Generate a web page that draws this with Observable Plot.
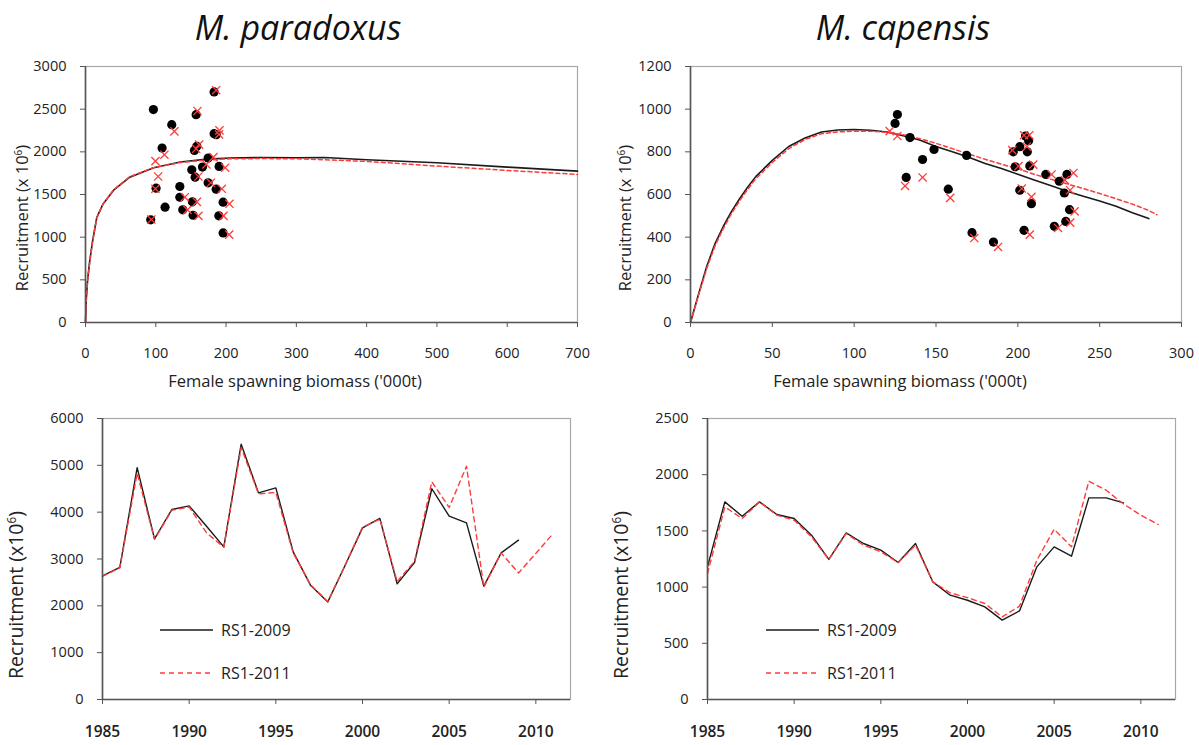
<!DOCTYPE html>
<html><head><meta charset="utf-8">
<script src="https://cdn.jsdelivr.net/npm/d3@7"></script>
<script src="https://cdn.jsdelivr.net/npm/@observablehq/plot@0.6"></script>
<style>
html,body{margin:0;padding:0;background:#fff;}
#root{position:relative;width:1199px;height:745px;overflow:hidden;font-family:"Open Sans",sans-serif;color:#222;}
.t{position:absolute;white-space:nowrap;line-height:1;transform:translate(-50%,-50%);}
.rot{transform:translate(-50%,-50%) rotate(-90deg);}
.title{font-style:italic;font-size:34px;color:#111;}
.xt{font-size:16.5px;}
.yt{font-size:16.5px;}
.yb{font-size:19.5px;}
.leg{position:absolute;font-size:16px;line-height:1;white-space:nowrap;display:flex;align-items:center;}
.leg svg{display:block;}
sup{font-size:0.6em;vertical-align:0.6em;line-height:0;}
</style></head><body><div id="root"></div>
<script>
// ---------- M. paradoxus : stock-recruitment ----------
const paraSRxTicks = [0, 100, 200, 300, 400, 500, 600, 700];
const paraSRyTicks = [0, 500, 1000, 1500, 2000, 2500, 3000];
const paraObs2009SSB = [183, 96.6, 157.4, 122.7, 183, 186, 109, 158.4, 155, 174.5, 151.2, 166.4, 190.1, 156, 100.4, 134.2, 174.5, 185.9, 134.2, 195.8, 152.1, 113.2, 138.4, 153.1, 189.7, 92.8, 195.8];
const paraObs2009Rec = [2702, 2495, 2436, 2318, 2213, 2200, 2044, 2064, 2017, 1927, 1790, 1821, 1829, 1703, 1574, 1594, 1637, 1562, 1468, 1410, 1414, 1351, 1320, 1257, 1250, 1203, 1050];
const paraObs2011SSB = [185.9, 159.3, 126.5, 190.6, 190, 112.3, 99.5, 161.7, 157.4, 182, 172, 198.7, 103.3, 160.7, 99.5, 178.3, 194, 141.3, 158.4, 204.8, 145, 160.7, 196.3, 93.7, 204.4];
const paraObs2011Rec = [2722, 2479, 2240, 2252, 2205, 1966, 1891, 2084, 2036, 1938, 1852, 1814, 1711, 1711, 1567, 1637, 1567, 1468, 1414, 1391, 1320, 1250, 1250, 1207, 1030];
const paraCurve2009SSB = [0, 1, 3, 6, 10, 16, 25, 40, 63, 97, 135, 173, 206, 250, 300, 340, 400, 500, 600, 700];
const paraCurve2009Rec = [0, 260, 500, 720, 950, 1230, 1390, 1550, 1703, 1813, 1880, 1915, 1927, 1933, 1931, 1933, 1908, 1872, 1821, 1774];
const paraCurve2011SSB = [0, 1, 3, 6, 10, 16, 25, 40, 63, 97, 135, 173, 206, 250, 300, 400, 500, 600, 700];
const paraCurve2011Rec = [0, 250, 490, 710, 940, 1225, 1390, 1555, 1710, 1815, 1875, 1905, 1918, 1921, 1919, 1888, 1833, 1782, 1735];

// ---------- M. capensis : stock-recruitment ----------
const capSRxTicks = [0, 50, 100, 150, 200, 250, 300];
const capSRyTicks = [0, 200, 400, 600, 800, 1000, 1200];
const capObs2009SSB = [126.4, 125, 134.1, 141.8, 131.8, 148.8, 157.5, 168.7, 172, 185.1, 197.2, 201.2, 198.4, 204.7, 206.6, 205.8, 207.3, 201.2, 208.3, 203.8, 217.1, 225.3, 230, 228.4, 231.6, 229.3, 222.3];
const capObs2009Rec = [975, 933, 867, 764, 680, 811, 625, 783, 421, 377, 800, 824, 730, 874, 852, 800, 734, 620, 557, 432, 694, 662, 694, 607, 529, 474, 451];
const capObs2011SSB = [121.7, 126.4, 131.1, 141.8, 158.7, 173.4, 187.9, 196.6, 200.4, 203.8, 207, 205.5, 209.4, 202.4, 208.3, 207.3, 220.6, 224.6, 228.8, 234, 231.9, 234.7, 232];
const capObs2011Rec = [897, 874, 640, 680, 584, 396, 354, 808, 733, 878, 878, 824, 740, 628, 589, 412, 694, 443, 667, 701, 620, 521, 468];
const capCurve2009SSB = [0, 5, 10, 15, 20, 25, 30, 35, 40, 50, 60, 70, 80, 90, 100, 110, 120, 130, 140, 150, 160, 170, 180, 190, 200, 210, 220, 230, 240, 250, 260, 270, 280];
const capCurve2009Rec = [0, 135, 265, 370, 450, 520, 580, 635, 685, 760, 825, 865, 893, 902, 905, 901, 893, 875, 855, 825, 800, 775, 745, 722, 695, 668, 642, 615, 592, 570, 545, 515, 487];
const capCurve2011SSB = [0, 5, 10, 15, 20, 25, 30, 35, 40, 50, 60, 70, 80, 90, 100, 110, 120, 130, 140, 150, 160, 170, 180, 190, 200, 210, 220, 230, 240, 250, 260, 270, 280, 285];
const capCurve2011Rec = [0, 130, 255, 360, 440, 510, 570, 625, 675, 750, 815, 858, 885, 893, 897, 897, 892, 880, 862, 840, 815, 790, 765, 742, 720, 695, 672, 650, 628, 605, 580, 555, 525, 505];

// ---------- Recruitment time series ----------
const yearTicks = [1985, 1990, 1995, 2000, 2005, 2010];
const yearDomain = [1985, 2012];
const years2009 = [1985, 1986, 1987, 1988, 1989, 1990, 1991, 1992, 1993, 1994, 1995, 1996, 1997, 1998, 1999, 2000, 2001, 2002, 2003, 2004, 2005, 2006, 2007, 2008, 2009];
const years2011 = [1985, 1986, 1987, 1988, 1989, 1990, 1991, 1992, 1993, 1994, 1995, 1996, 1997, 1998, 1999, 2000, 2001, 2002, 2003, 2004, 2005, 2006, 2007, 2008, 2009, 2010, 2011];
const paraTSyTicks = [0, 1000, 2000, 3000, 4000, 5000, 6000];
const paraRec2009 = [2640, 2820, 4950, 3430, 4057, 4134, 3700, 3259, 5452, 4412, 4519, 3152, 2441, 2084, 2868, 3665, 3865, 2470, 2925, 4500, 3914, 3771, 2420, 3130, 3402];
const paraRec2011 = [2630, 2810, 4830, 3420, 4040, 4110, 3560, 3250, 5380, 4390, 4420, 3130, 2450, 2090, 2870, 3680, 3850, 2520, 2950, 4650, 4100, 4980, 2400, 3130, 2700, 3120, 3545];
const capTSyTicks = [0, 500, 1000, 1500, 2000, 2500];
const capRec2009 = [1180, 1758, 1631, 1758, 1646, 1610, 1462, 1246, 1482, 1388, 1329, 1219, 1388, 1046, 928, 883, 824, 706, 788, 1180, 1358, 1275, 1794, 1794, 1749];
const capRec2011 = [1120, 1713, 1610, 1758, 1640, 1595, 1447, 1246, 1477, 1373, 1314, 1219, 1373, 1046, 949, 906, 854, 735, 830, 1239, 1515, 1358, 1942, 1862, 1740, 1640, 1557];

const seriesNames = ["RS1-2009", "RS1-2011"];
const titles = ["M. paradoxus", "M. capensis"];
const xTitle = "Female spawning biomass ('000t)";

// ---------- helpers ----------
const zip = (xs, ys) => xs.map((x, i) => ({x, y: ys[i]}));
const BLACK = "#1a1a1a", RED = "#ff3b3b", AXIS = "#555", FRAME = "#a8a8a8";
const root = document.getElementById("root");

function panel(o) {
  const svg = Plot.plot({
    width: o.width, height: o.height,
    marginLeft: o.ml, marginRight: o.mr, marginTop: o.mt, marginBottom: o.mb,
    x: {domain: o.xDomain},
    y: {domain: [o.yTicks[0], o.yTicks[o.yTicks.length - 1]]},
    style: {fontFamily: "'Open Sans', sans-serif", fontSize: "14.5px", color: "#222", background: "transparent", overflow: "visible"},
    marks: [
      Plot.frame({stroke: FRAME, strokeWidth: 1.2}),
      Plot.axisX({ticks: o.xTicks, tickFormat: d3.format("d"), tickSize: 5, tickPadding: o.xPad, stroke: AXIS, fill: "#222", label: null, fontSize: o.xFont, fontWeight: o.xWeight}),
      Plot.axisY({ticks: o.yTicks, tickFormat: d3.format("d"), tickSize: 5, tickPadding: 14, stroke: AXIS, fill: "#222", label: null}),
      ...o.marks,
      Plot.ruleX([o.xTicks[0]], {stroke: AXIS, strokeWidth: 1.6}),
      Plot.ruleY([o.yTicks[0]], {stroke: AXIS, strokeWidth: 1.6})
    ]
  });
  svg.style.position = "absolute";
  svg.style.left = o.left + "px";
  svg.style.top = o.top + "px";
  root.appendChild(svg);
}

function srMarks(c09x, c09y, c11x, c11y, o09x, o09y, o11x, o11y) {
  return [
    Plot.line(zip(c09x, c09y), {x: "x", y: "y", stroke: BLACK, strokeWidth: 1.6}),
    Plot.line(zip(c11x, c11y), {x: "x", y: "y", stroke: RED, strokeWidth: 1.5, strokeDasharray: "4,3"}),
    Plot.dot(zip(o09x, o09y), {x: "x", y: "y", r: 4.6, fill: "#000", stroke: "none"}),
    Plot.dot(zip(o11x, o11y), {x: "x", y: "y", r: 3.8, symbol: "times", stroke: RED, strokeWidth: 1.3})
  ];
}
function tsMarks(y09, r09, y11, r11) {
  return [
    Plot.line(zip(y09, r09), {x: "x", y: "y", stroke: BLACK, strokeWidth: 1.4}),
    Plot.line(zip(y11, r11), {x: "x", y: "y", stroke: RED, strokeWidth: 1.4, strokeDasharray: "5,4"})
  ];
}

// top-left
panel({left: 0, top: 40, width: 600, height: 360, ml: 85, mr: 23, mt: 26, mb: 78,
  xDomain: [paraSRxTicks[0], paraSRxTicks[paraSRxTicks.length - 1]], xTicks: paraSRxTicks, yTicks: paraSRyTicks, xPad: 20, xFont: "14.5px", xWeight: 400,
  marks: srMarks(paraCurve2009SSB, paraCurve2009Rec, paraCurve2011SSB, paraCurve2011Rec, paraObs2009SSB, paraObs2009Rec, paraObs2011SSB, paraObs2011Rec)});
// top-right
panel({left: 600, top: 40, width: 599, height: 360, ml: 90, mr: 18, mt: 26, mb: 78,
  xDomain: [capSRxTicks[0], capSRxTicks[capSRxTicks.length - 1]], xTicks: capSRxTicks, yTicks: capSRyTicks, xPad: 20, xFont: "14.5px", xWeight: 400,
  marks: srMarks(capCurve2009SSB, capCurve2009Rec, capCurve2011SSB, capCurve2011Rec, capObs2009SSB, capObs2009Rec, capObs2011SSB, capObs2011Rec)});
// bottom-left
panel({left: 0, top: 400, width: 600, height: 345, ml: 102, mr: 30, mt: 18, mb: 46,
  xDomain: yearDomain, xTicks: yearTicks, yTicks: paraTSyTicks, xPad: 21, xFont: "15.5px", xWeight: 600,
  marks: tsMarks(years2009, paraRec2009, years2011, paraRec2011)});
// bottom-right
panel({left: 600, top: 400, width: 599, height: 345, ml: 107, mr: 24, mt: 18, mb: 46,
  xDomain: yearDomain, xTicks: yearTicks, yTicks: capTSyTicks, xPad: 21, xFont: "15.5px", xWeight: 600,
  marks: tsMarks(years2009, capRec2009, years2011, capRec2011)});

// ---------- text ----------
function txt(html, cls, cx, cy) {
  const d = document.createElement("div");
  d.className = "t " + cls;
  d.innerHTML = html;
  d.style.left = cx + "px";
  d.style.top = cy + "px";
  root.appendChild(d);
}
txt(titles[0], "title", 298, 27);
txt(titles[1], "title", 903, 27);
txt(xTitle, "xt", 295, 381);
txt(xTitle, "xt", 900, 381);
txt("Recruitment (x 10<sup>6</sup>)", "yt rot", 22, 218);
txt("Recruitment (x 10<sup>6</sup>)", "yt rot", 625, 218);
txt("Recruitment (x10<sup>6</sup>)", "yb rot", 16, 595);
txt("Recruitment (x10<sup>6</sup>)", "yb rot", 621, 595);

function legend(x, y, name, color, dash) {
  const d = document.createElement("div");
  d.className = "leg";
  d.style.left = x + "px";
  d.style.top = (y - 9) + "px";
  d.style.height = "18px";
  d.innerHTML = `<svg width="53" height="6"><line x1="0" y1="3" x2="53" y2="3" stroke="${color}" stroke-width="1.4" ${dash ? 'stroke-dasharray="5,4"' : ""}/></svg><span style="margin-left:8px">${name}</span>`;
  root.appendChild(d);
}
legend(160, 630, seriesNames[0], BLACK, false);
legend(160, 673, seriesNames[1], RED, true);
legend(766, 630, seriesNames[0], BLACK, false);
legend(766, 673, seriesNames[1], RED, true);
</script></body></html>
